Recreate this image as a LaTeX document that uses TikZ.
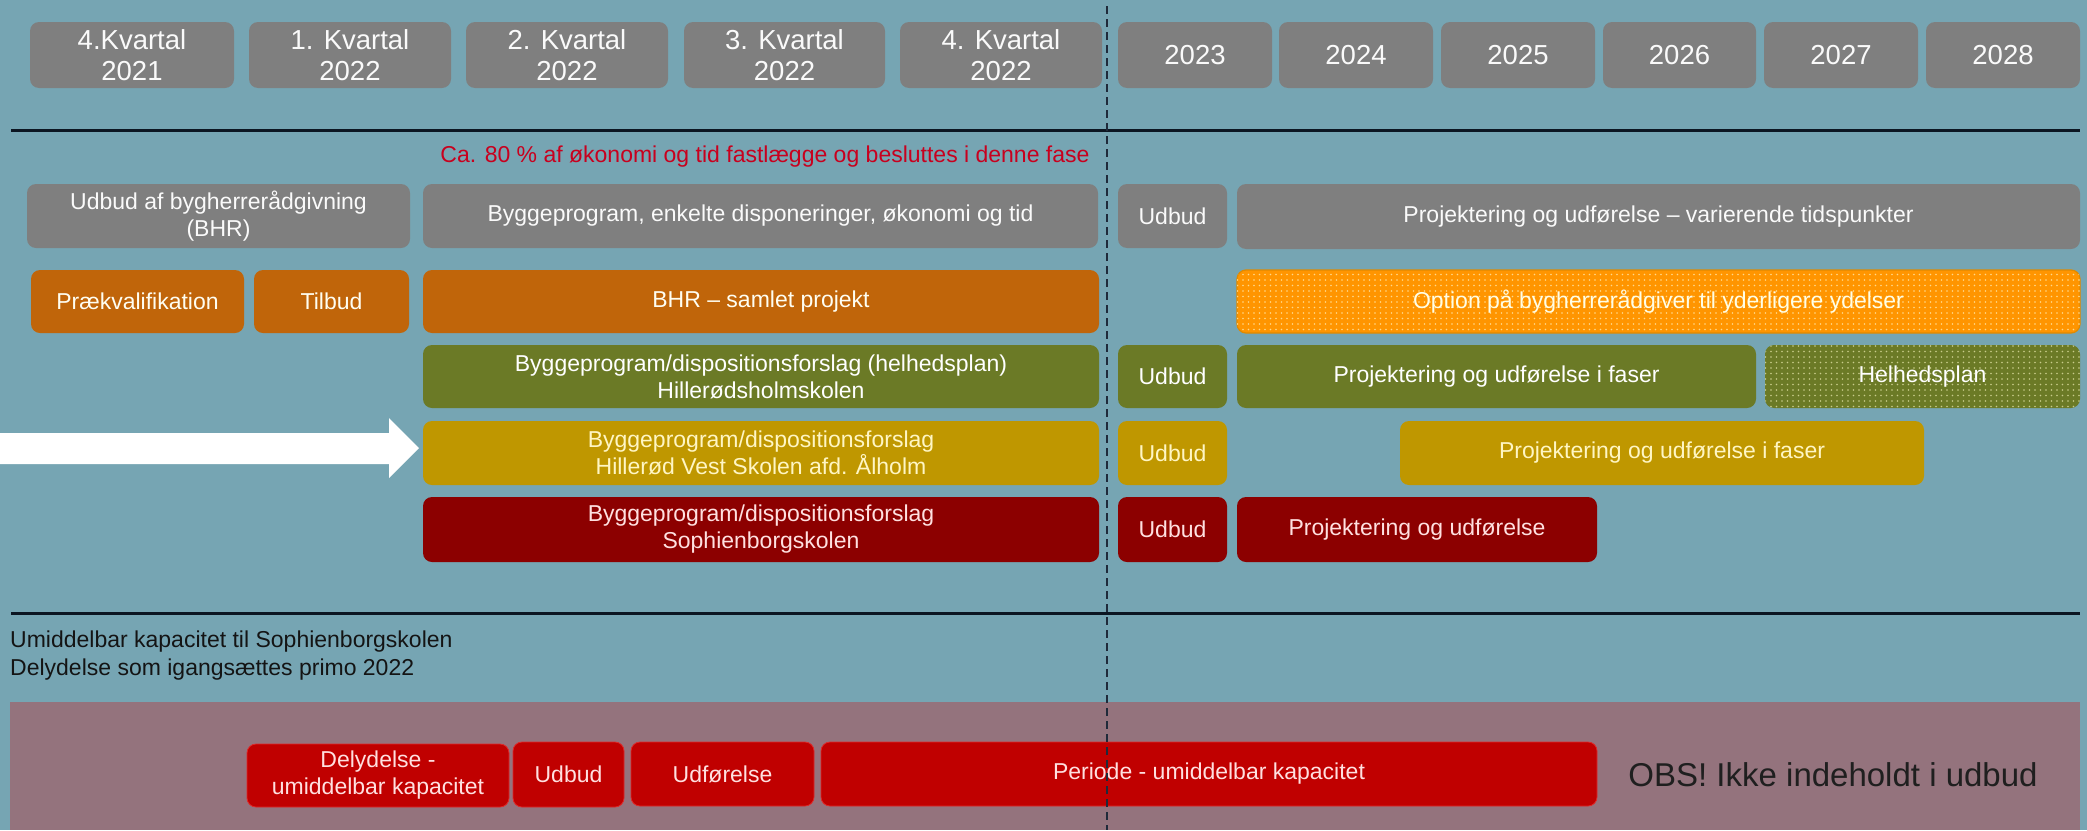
\documentclass[tikz,border=0pt]{standalone}
\usepackage{fontspec}
\setmainfont{Liberation Sans}
\usetikzlibrary{patterns.meta}
\definecolor{bgc}{HTML}{76A5B3}
\definecolor{grayc}{HTML}{7F7F7F}
\definecolor{orc}{HTML}{C0650A}
\definecolor{optc}{HTML}{FF9500}
\definecolor{optb}{HTML}{E08A00}
\definecolor{optdot}{HTML}{FFD98A}
\definecolor{olc}{HTML}{6B7A26}
\definecolor{oldot}{HTML}{C8CC8A}
\definecolor{goldc}{HTML}{BF9700}
\definecolor{goldt}{HTML}{FFF6C4}
\definecolor{drc}{HTML}{8C0000}
\definecolor{brc}{HTML}{C00000}
\definecolor{brb}{HTML}{E02828}
\definecolor{pinkt}{HTML}{FFE0E0}
\definecolor{mauve}{HTML}{94737D}
\definecolor{redtxt}{HTML}{C8001E}
\definecolor{linec}{HTML}{0C1622}
\definecolor{dashc}{HTML}{1F2A3A}
\tikzset{
  box/.style={rounded corners=9pt, inner sep=0pt, align=center, text=white,
    font=\fontsize{23}{27}\selectfont},
  hdr/.style={box, fill=grayc, text=white!96!gray, font=\fontsize{27.5}{31}\selectfont},
  graybox/.style={fill=grayc, text=white!96!gray},
  orbox/.style={fill=orc, text=white!95!yellow},
  optbox/.style={fill=optc, draw=optb, line width=1.2pt, text=white!90!yellow,
    postaction={pattern={Dots[radius=0.9pt,distance=5.5pt]}, pattern color=optdot}},
  olbox/.style={fill=olc, text=white},
  oldotbox/.style={fill=olc, text=white,
    postaction={pattern={Dots[radius=0.9pt,distance=5.5pt]}, pattern color=oldot}},
  goldbox/.style={fill=goldc, text=goldt},
  drbox/.style={fill=drc, text=pinkt},
  brbox/.style={fill=brc, draw=brb, line width=0.8pt, text=pinkt},
  sepline/.style={draw=linec, line width=3pt},
  vdash/.style={draw=dashc, line width=1.6pt, dash pattern=on 8pt off 5pt},
}
\newcommand\bx[7]{\node[box,#6,minimum width={(#4)-(#2)},minimum height={(#5)-(#3)}] (#1) at ({((#2)+(#4))/2},{((#3)+(#5))/2}) {#7};}
\begin{document}
\begin{tikzpicture}[x=1pt,y=-1pt]
\useasboundingbox (0,0) rectangle (2087,830);
\fill[bgc] (0,0) rectangle (2087,830);
% header
\bx{h1}{30}{22}{234}{88}{hdr}{4.Kvartal\\2021}
\bx{h2}{249}{22}{451}{88}{hdr}{1. Kvartal\\2022}
\bx{h3}{466}{22}{668}{88}{hdr}{2. Kvartal\\2022}
\bx{h4}{684}{22}{885}{88}{hdr}{3. Kvartal\\2022}
\bx{h5}{900}{22}{1102}{88}{hdr}{4. Kvartal\\2022}
\bx{h6}{1118}{22}{1272}{88}{hdr}{2023}
\bx{h7}{1279}{22}{1433}{88}{hdr}{2024}
\bx{h8}{1441}{22}{1595}{88}{hdr}{2025}
\bx{h9}{1603}{22}{1756}{88}{hdr}{2026}
\bx{h10}{1764}{22}{1918}{88}{hdr}{2027}
\bx{h11}{1926}{22}{2080}{88}{hdr}{2028}
\coordinate (l1a) at (11,130);
\coordinate (l1b) at (2080,130);
\draw[sepline] (l1a) -- (l1b);
\node[text=redtxt, font=\fontsize{23}{27}\selectfont, inner sep=0pt] (note) at (765,157) {Ca. 80 \% af økonomi og tid fastlægge og besluttes i denne fase};
% row 1
\bx{r1a}{27}{184}{410}{248}{graybox}{Udbud af bygherrerådgivning\\(BHR)}
\bx{r1b}{423}{184}{1098}{248}{graybox}{Byggeprogram, enkelte disponeringer, økonomi og tid}
\bx{r1c}{1118}{184}{1227}{248}{graybox}{Udbud}
\bx{r1d}{1237}{184}{2080}{249}{graybox}{Projektering og udførelse – varierende tidspunkter}
% row 2
\bx{r2a}{31}{270}{244}{333}{orbox}{Prækvalifikation}
\bx{r2b}{254}{270}{409}{333}{orbox}{Tilbud}
\bx{r2c}{423}{270}{1099}{333}{orbox}{BHR – samlet projekt}
\bx{r2d}{1237}{270}{2080}{333}{optbox}{Option på bygherrerådgiver til yderligere ydelser}
% row 3
\bx{r3a}{423}{345}{1099}{408}{olbox}{Byggeprogram/dispositionsforslag (helhedsplan)\\Hillerødsholmskolen}
\bx{r3b}{1118}{345}{1227}{408}{olbox}{Udbud}
\bx{r3c}{1237}{345}{1756}{408}{olbox}{Projektering og udførelse i faser}
\bx{r3d}{1765}{345}{2080}{408}{oldotbox}{Helhedsplan}
% row 4
\bx{r4a}{423}{421}{1099}{485}{goldbox}{Byggeprogram/dispositionsforslag\\Hillerød Vest Skolen afd. Ålholm}
\bx{r4b}{1118}{421}{1227}{485}{goldbox}{Udbud}
\bx{r4c}{1400}{421}{1924}{485}{goldbox}{Projektering og udførelse i faser}
% row 5
\bx{r5a}{423}{497}{1099}{562}{drbox}{Byggeprogram/dispositionsforslag\\Sophienborgskolen}
\bx{r5b}{1118}{497}{1227}{562}{drbox}{Udbud}
\bx{r5c}{1237}{497}{1597}{562}{drbox}{Projektering og udførelse}
% white block arrow
\fill[white] (0,433) -- (389,433) -- (389,418) -- (419,448) -- (389,478) -- (389,464) -- (0,464) -- cycle;
% second line
\coordinate (l2a) at (11,613);
\coordinate (l2b) at (2080,613);
\draw[sepline] (l2a) -- (l2b);
\node[anchor=west, align=left, inner sep=0pt, text=black!92, font=\fontsize{23}{28}\selectfont] (info) at (10,656) {Umiddelbar kapacitet til Sophienborgskolen\\Delydelse som igangsættes primo 2022};
% bottom region
\fill[mauve] (10,702) rectangle (2080,830);
\bx{b1}{247}{744}{509}{807}{brbox}{Delydelse -\\umiddelbar kapacitet}
\bx{b2}{513}{742}{624}{807}{brbox}{Udbud}
\bx{b3}{631}{742}{814}{806}{brbox}{Udførelse}
\bx{b4}{821}{742}{1597}{806}{brbox}{Periode - umiddelbar kapacitet}
\node[text=black!88, font=\fontsize{33}{38}\selectfont, inner sep=0pt] (obs) at (1833,775) {OBS! Ikke indeholdt i udbud};
% dashed divider
\coordinate (dtop) at (1107,6);
\coordinate (dbot) at (1107,830);
\draw[vdash] (dtop) -- (dbot);
\end{tikzpicture}
\end{document}
